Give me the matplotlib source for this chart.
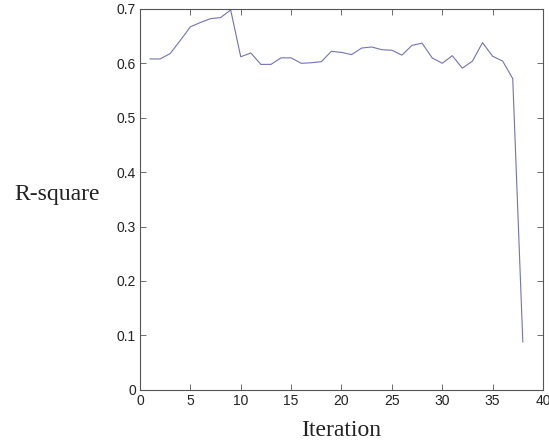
import matplotlib
matplotlib.use('Agg')
import matplotlib.pyplot as plt

iteration = list(range(1, 39))
r_square = [0.608, 0.608, 0.618, 0.642, 0.667, 0.675, 0.682, 0.684, 0.698, 0.612,
            0.619, 0.598, 0.598, 0.610, 0.610, 0.600, 0.601, 0.603, 0.622, 0.620,
            0.616, 0.628, 0.630, 0.625, 0.624, 0.615, 0.633, 0.637, 0.610, 0.600,
            0.614, 0.591, 0.604, 0.638, 0.613, 0.604, 0.572, 0.088]

x_ticks = [0, 5, 10, 15, 20, 25, 30, 35, 40]
y_ticks = [0, 0.1, 0.2, 0.3, 0.4, 0.5, 0.6, 0.7]

fig = plt.figure(figsize=(5.49, 4.44), dpi=100)
ax = fig.add_axes([0.255, 0.122, 0.734, 0.858])

ax.plot(iteration, r_square, color='#7373b5', linewidth=0.8)

ax.set_xlim(0, 40)
ax.set_ylim(0, 0.7)
ax.set_xticks(x_ticks)
ax.set_yticks(y_ticks)
ax.set_xticklabels([str(t) for t in x_ticks])
ax.set_yticklabels(['0'] + ['%.1f' % t for t in y_ticks[1:]])

for s in ax.spines.values():
    s.set_color('#555555')
    s.set_linewidth(0.8)
ax.tick_params(direction='in', length=4, width=0.6, color='#555555',
               top=True, right=True, labelsize=10, pad=3, labelcolor='#222222')
for lbl in ax.get_xticklabels() + ax.get_yticklabels():
    lbl.set_family('Liberation Sans')

ax.set_xlabel('Iteration', family='Liberation Serif', fontsize=17, va='center',
              color='#222222')
ax.xaxis.set_label_coords(0.5, -0.108)
ax.set_ylabel('R-square', family='Liberation Serif', fontsize=17, rotation=0,
              va='center', ha='center', color='#222222')
ax.yaxis.set_label_coords(-0.206, 0.512)

fig.savefig('out.png', dpi=100)
